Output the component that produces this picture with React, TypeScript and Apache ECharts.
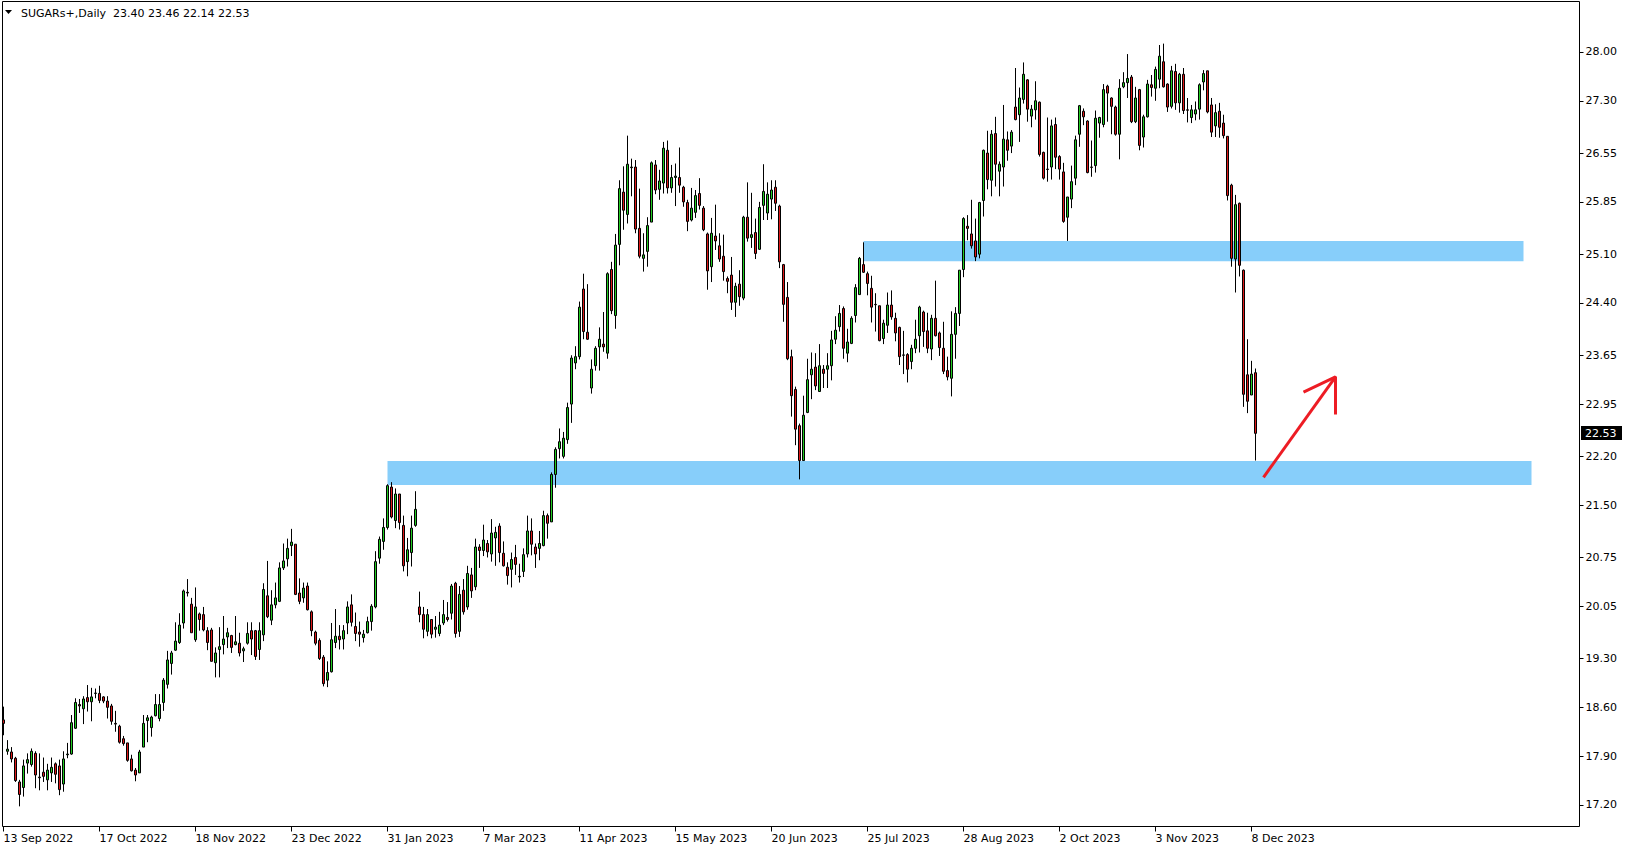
import React, { useEffect, useRef } from "react";
import * as echarts from "echarts";

const symbolName = "SUGARs+,Daily";
const dateLabels = [
  "13 Sep 2022", "17 Oct 2022", "18 Nov 2022", "23 Dec 2022", "31 Jan 2023", "7 Mar 2023", "11 Apr 2023",
  "15 May 2023", "20 Jun 2023", "25 Jul 2023", "28 Aug 2023", "2 Oct 2023", "3 Nov 2023", "8 Dec 2023",
];
const labelStep = 24;
const totalSlots = 394;

const opens = [
  18.42, 17.97, 17.96, 17.87, 17.53, 17.45, 17.80, 17.78, 17.94, 17.60, 17.67, 17.56, 17.66, 17.79, 17.76, 17.50, 17.92, 17.93, 18.30, 18.64,
  18.58, 18.74, 18.68, 18.80, 18.80, 18.75, 18.69, 18.62, 18.37, 18.33, 18.15, 18.09, 17.86, 17.70, 17.66, 18.03, 18.41, 18.31, 18.48, 18.44,
  18.67, 18.93, 19.23, 19.42, 19.53, 19.81, 20.25, 20.08, 19.57, 19.94, 19.93, 19.70, 19.71, 19.24, 19.43, 19.50, 19.61, 19.63, 19.50, 19.52,
  19.41, 19.52, 19.70, 19.70, 19.43, 19.64, 20.20, 19.85, 20.07, 20.12, 20.60, 20.73, 20.92, 20.94, 20.24, 20.17, 20.34, 19.97, 19.68, 19.56,
  19.32, 18.99, 19.11, 19.53, 19.62, 19.58, 19.81, 20.07, 19.76, 19.68, 19.60, 19.67, 19.83, 20.04, 20.74, 20.98, 21.18, 21.76, 21.28, 21.66,
  21.21, 20.69, 20.82, 21.21, 20.04, 19.93, 19.69, 19.86, 19.72, 19.66, 19.81, 19.89, 19.95, 20.38, 19.69, 20.28, 20.04, 20.50, 20.33, 20.90,
  20.85, 20.95, 20.80, 21.03, 21.20, 20.81, 20.61, 20.58, 20.75, 20.47, 20.55, 20.80, 21.13, 20.90, 20.88, 20.92, 21.35, 21.26, 21.94, 22.31,
  22.20, 22.44, 22.95, 23.54, 23.63, 24.60, 23.98, 23.18, 23.50, 23.77, 23.81, 23.68, 24.88, 24.22, 25.24, 25.99, 25.67, 26.34, 26.35, 25.47,
  25.04, 25.14, 25.56, 26.38, 26.03, 26.12, 26.59, 26.05, 26.20, 26.20, 26.06, 25.84, 25.59, 25.70, 25.97, 25.76, 25.39, 24.92, 25.36, 25.22,
  25.07, 24.75, 24.80, 24.41, 24.67, 24.47, 25.63, 25.34, 25.41, 25.17, 25.80, 25.69, 25.89, 26.06, 25.79, 24.95, 24.48, 23.63, 23.16, 22.64,
  22.14, 22.83, 23.37, 23.48, 23.13, 23.45, 23.45, 23.50, 23.88, 24.06, 24.32, 23.68, 23.82, 24.22, 24.52, 24.95, 24.82, 24.61, 24.38, 24.36,
  23.89, 24.08, 24.37, 24.18, 24.05, 23.65, 23.66, 23.56, 23.75, 23.93, 24.27, 24.00, 23.74, 24.18, 23.97, 23.75, 23.43, 23.32, 23.95, 24.25,
  24.88, 25.50, 25.39, 25.29, 25.10, 25.87, 26.55, 26.16, 26.83, 26.29, 26.35, 26.74, 26.65, 27.21, 27.10, 27.32, 27.60, 27.08, 27.17, 27.28,
  26.56, 26.32, 26.35, 26.96, 26.50, 26.28, 25.63, 25.89, 26.19, 26.82, 27.15, 27.01, 26.35, 26.37, 26.98, 26.96, 27.51, 27.34, 27.21, 26.82,
  27.50, 27.56, 27.64, 27.00, 27.46, 26.78, 27.07, 27.53, 27.48, 27.61, 27.86, 27.54, 27.22, 27.72, 27.27, 27.68, 27.17, 27.06, 27.11, 27.18,
  27.57, 27.73, 27.24, 26.94, 27.15, 26.98, 26.79, 26.09, 25.03, 25.83, 24.87, 23.37, 23.08, 23.40,
];
const highs = [
  18.61, 18.13, 18.03, 17.89, 17.56, 17.85, 17.94, 18.01, 17.97, 17.94, 17.88, 17.79, 17.88, 17.81, 17.85, 17.97, 18.09, 18.49, 18.73, 18.72,
  18.76, 18.92, 18.88, 18.87, 18.91, 18.76, 18.76, 18.65, 18.55, 18.35, 18.19, 18.09, 17.92, 17.73, 17.99, 18.49, 18.49, 18.48, 18.79, 18.79,
  19.02, 19.41, 19.41, 19.82, 19.95, 20.29, 20.44, 20.17, 20.32, 19.96, 20.04, 19.75, 19.74, 19.46, 19.75, 19.91, 19.74, 19.64, 19.91, 19.67,
  19.47, 19.82, 19.82, 19.71, 19.82, 20.38, 20.70, 20.28, 20.39, 20.68, 20.95, 21.02, 21.16, 20.94, 20.45, 20.39, 20.39, 19.99, 19.70, 19.59,
  19.35, 19.26, 19.81, 20.01, 19.78, 19.78, 20.12, 20.22, 19.96, 19.83, 19.71, 19.90, 20.08, 20.84, 21.05, 21.31, 21.80, 21.83, 21.74, 21.66,
  21.35, 21.03, 21.35, 21.70, 20.26, 20.04, 20.01, 19.86, 19.91, 19.97, 20.14, 20.11, 20.37, 20.40, 20.34, 20.44, 20.63, 20.60, 21.02, 20.94,
  21.22, 21.00, 21.30, 21.19, 21.24, 20.98, 20.68, 20.82, 20.93, 20.66, 20.88, 21.35, 21.31, 20.95, 21.13, 21.42, 21.38, 21.97, 22.33, 22.60,
  22.55, 22.97, 23.65, 23.78, 24.42, 24.82, 24.67, 23.59, 23.78, 24.05, 24.27, 24.84, 24.99, 25.39, 26.16, 26.36, 26.80, 26.47, 26.45, 26.04,
  25.40, 25.63, 26.43, 26.45, 26.31, 26.71, 26.73, 26.38, 26.40, 26.63, 26.08, 25.88, 26.05, 26.02, 26.19, 25.79, 25.41, 25.62, 25.81, 25.40,
  25.38, 24.78, 25.06, 24.69, 24.87, 25.65, 26.13, 25.98, 25.61, 25.85, 26.39, 26.13, 26.16, 26.16, 25.81, 24.96, 24.70, 23.73, 23.20, 22.67,
  23.07, 23.60, 23.69, 23.68, 23.81, 23.51, 23.68, 24.00, 24.21, 24.37, 24.35, 24.03, 24.21, 24.67, 25.06, 25.27, 24.85, 24.79, 24.54, 24.36,
  24.16, 24.55, 24.58, 24.26, 24.06, 24.00, 23.68, 23.80, 24.16, 24.36, 24.29, 24.26, 24.23, 24.72, 23.99, 24.13, 23.63, 24.28, 24.34, 24.87,
  25.63, 25.66, 25.88, 25.61, 25.85, 26.60, 26.87, 26.88, 27.07, 26.43, 27.24, 26.86, 26.88, 27.77, 27.49, 27.85, 27.61, 27.24, 27.58, 27.29,
  26.57, 27.06, 27.03, 27.06, 26.52, 26.41, 25.92, 26.37, 26.80, 27.24, 27.19, 27.02, 26.73, 27.16, 27.07, 27.54, 27.53, 27.35, 27.23, 27.61,
  27.71, 27.97, 27.67, 27.50, 27.47, 27.10, 27.60, 27.67, 27.79, 28.10, 28.12, 27.55, 27.80, 27.83, 27.70, 27.77, 27.34, 27.24, 27.29, 27.55,
  27.74, 27.73, 27.34, 27.25, 27.27, 27.10, 26.79, 26.11, 25.95, 25.84, 24.88, 23.88, 23.57, 23.46,
];
const lows = [
  18.20, 17.92, 17.81, 17.53, 17.18, 17.32, 17.65, 17.75, 17.44, 17.41, 17.53, 17.41, 17.53, 17.51, 17.34, 17.39, 17.87, 17.92, 18.29, 18.52,
  18.36, 18.54, 18.40, 18.73, 18.66, 18.66, 18.44, 18.35, 18.25, 18.08, 18.05, 17.82, 17.68, 17.54, 17.66, 18.03, 18.10, 18.18, 18.47, 18.40,
  18.55, 18.87, 19.07, 19.41, 19.51, 19.73, 20.19, 19.67, 19.54, 19.70, 19.69, 19.42, 19.26, 19.03, 19.03, 19.36, 19.45, 19.38, 19.49, 19.33,
  19.25, 19.50, 19.35, 19.28, 19.28, 19.55, 19.88, 19.78, 20.02, 20.11, 20.57, 20.62, 20.77, 20.21, 20.08, 20.10, 19.99, 19.62, 19.49, 19.28,
  18.90, 18.89, 19.10, 19.45, 19.43, 19.43, 19.65, 19.76, 19.55, 19.47, 19.53, 19.66, 19.70, 20.02, 20.66, 20.86, 21.15, 21.31, 21.17, 21.15,
  20.55, 20.48, 20.62, 21.19, 19.82, 19.59, 19.62, 19.59, 19.60, 19.62, 19.78, 19.83, 19.86, 19.60, 19.61, 19.93, 20.00, 20.17, 20.28, 20.60,
  20.77, 20.75, 20.69, 20.63, 20.68, 20.62, 20.36, 20.32, 20.50, 20.39, 20.47, 20.75, 20.78, 20.60, 20.71, 20.91, 21.02, 21.26, 21.75, 22.17,
  22.17, 22.38, 22.68, 23.45, 23.59, 23.88, 23.87, 23.10, 23.43, 23.43, 23.70, 23.60, 24.24, 24.03, 24.94, 25.45, 25.54, 25.93, 25.40, 25.04,
  24.85, 24.92, 25.56, 25.96, 25.88, 25.97, 25.97, 25.98, 25.79, 25.98, 25.78, 25.43, 25.57, 25.62, 25.74, 25.43, 24.59, 24.70, 25.16, 24.99,
  24.72, 24.54, 24.30, 24.20, 24.36, 24.44, 25.28, 25.19, 25.03, 25.16, 25.59, 25.59, 25.60, 25.72, 24.90, 24.13, 23.58, 22.77, 22.36, 21.87,
  22.14, 22.82, 23.02, 23.15, 23.13, 23.18, 23.18, 23.29, 23.81, 23.99, 23.60, 23.55, 23.81, 24.12, 24.52, 24.83, 24.51, 24.12, 23.99, 23.85,
  23.81, 23.97, 24.16, 23.85, 23.51, 23.38, 23.26, 23.45, 23.68, 23.69, 23.77, 23.68, 23.58, 23.92, 23.64, 23.38, 23.29, 23.06, 23.60, 24.07,
  24.77, 25.30, 25.18, 25.00, 25.04, 25.64, 26.03, 25.93, 26.07, 25.93, 26.07, 26.44, 26.55, 27.02, 26.71, 27.26, 27.00, 26.92, 27.03, 26.50,
  26.17, 26.14, 26.17, 26.32, 26.17, 25.55, 25.29, 25.76, 26.09, 26.64, 26.95, 26.26, 26.21, 26.27, 26.77, 26.92, 27.00, 26.82, 26.80, 26.46,
  27.48, 27.34, 26.98, 26.98, 26.59, 26.63, 27.06, 27.36, 27.30, 27.48, 27.49, 27.14, 27.19, 27.17, 27.13, 27.11, 26.99, 26.98, 27.02, 27.03,
  27.45, 27.12, 26.78, 26.78, 26.77, 26.76, 25.87, 24.92, 24.55, 24.78, 22.91, 22.82, 23.08, 22.14,
];
const closes = [
  18.37, 18.00, 17.86, 17.55, 17.35, 17.76, 17.85, 17.97, 17.63, 17.59, 17.61, 17.70, 17.74, 17.64, 17.42, 17.86, 17.93, 18.38, 18.67, 18.62,
  18.72, 18.68, 18.75, 18.805, 18.70, 18.69, 18.60, 18.40, 18.36, 18.10, 18.08, 17.84, 17.69, 17.63, 17.96, 18.37, 18.45, 18.46, 18.64, 18.64,
  18.99, 19.28, 19.38, 19.55, 19.78, 20.27, 20.24, 19.67, 20.04, 19.86, 19.71, 19.53, 19.26, 19.38, 19.47, 19.58, 19.67, 19.46, 19.54, 19.38,
  19.44, 19.66, 19.58, 19.33, 19.70, 20.29, 19.90, 20.07, 20.17, 20.60, 20.70, 20.88, 20.97, 20.22, 20.12, 20.31, 20.00, 19.70, 19.52, 19.30,
  18.94, 19.10, 19.57, 19.62, 19.57, 19.70, 20.04, 19.82, 19.66, 19.65, 19.65, 19.83, 20.05, 20.69, 21.01, 21.18, 21.78, 21.33, 21.66, 21.25,
  20.63, 20.86, 21.17, 21.44, 19.93, 19.72, 19.93, 19.65, 19.75, 19.78, 19.93, 19.86, 20.34, 19.66, 20.22, 19.97, 20.52, 20.27, 20.90, 20.85,
  21.00, 20.83, 21.10, 21.11, 20.82, 20.63, 20.49, 20.72, 20.65, 20.48, 20.79, 21.13, 20.94, 20.80, 20.95, 21.35, 21.24, 21.94, 22.30, 22.41,
  22.46, 22.90, 23.61, 23.63, 24.34, 23.99, 23.88, 23.45, 23.75, 23.88, 23.77, 24.82, 24.29, 25.23, 26.04, 25.73, 26.39, 26.35, 25.46, 25.07,
  25.09, 25.51, 26.41, 26.02, 26.15, 26.62, 26.05, 26.20, 26.22, 26.09, 25.85, 25.57, 25.76, 25.94, 25.80, 25.45, 24.86, 25.40, 25.29, 25.03,
  24.85, 24.71, 24.41, 24.64, 24.49, 25.63, 25.33, 25.38, 25.11, 25.77, 26.00, 25.96, 26.02, 25.83, 24.99, 24.38, 23.60, 23.07, 22.59, 22.14,
  22.79, 23.30, 23.45, 23.21, 23.50, 23.39, 23.50, 23.87, 24.01, 24.25, 23.75, 23.84, 24.18, 24.62, 25.04, 24.84, 24.68, 24.34, 24.375, 23.86,
  24.11, 24.37, 24.20, 23.97, 23.63, 23.655, 23.45, 23.75, 23.88, 24.34, 23.99, 23.75, 24.18, 23.93, 23.76, 23.42, 23.34, 23.95, 24.25, 24.87,
  25.61, 25.47, 25.22, 25.06, 25.84, 26.59, 26.17, 26.82, 26.39, 26.39, 26.75, 26.59, 26.85, 27.03, 27.34, 27.68, 27.18, 27.18, 27.30, 26.53,
  26.19, 26.315, 26.94, 26.49, 26.32, 25.57, 25.92, 26.14, 26.74, 27.23, 27.07, 26.27, 26.345, 27.05, 27.06, 27.46, 27.41, 27.22, 26.82, 27.48,
  27.56, 27.62, 27.00, 27.34, 26.66, 27.07, 27.54, 27.49, 27.75, 27.94, 27.50, 27.21, 27.73, 27.27, 27.68, 27.16, 27.165, 27.17, 27.17, 27.53,
  27.69, 27.14, 26.85, 27.13, 26.92, 26.80, 25.94, 25.04, 25.81, 24.94, 23.09, 22.99, 23.38, 22.53,
];

const priceTicks = [17.2, 17.9, 18.6, 19.3, 20.05, 20.75, 21.5, 22.2, 22.95, 23.65, 24.4, 25.1, 25.85, 26.55, 27.3, 28.0];
const yMin = 16.891;
const yMax = 28.724;

// zones: [fromIndex, toIndex, lowPrice, highPrice]
const supportZone = [96, 382, 21.79, 22.135];
const resistanceZone = [215, 380, 25.0, 25.29];
const arrowShaft = [[315, 21.9], [333, 23.34]];
const arrowHead = [[325, 23.12], [333, 23.34], [333, 22.8]];

const FONT = "DejaVu Sans";
const GREEN = "#22cc22";
const RED = "#dd1818";
const ZONE = "#87cefa";
const ARROW = "#ed1c24";

export default function App() {
  const ref = useRef<HTMLDivElement>(null);

  useEffect(() => {
    if (!ref.current) return;
    const chart = echarts.init(ref.current, undefined, { renderer: "svg" });
    const categories = Array.from({ length: totalSlots }, (_, i) => String(i));
    const candles = opens.map((o, i) => [o, closes[i], lows[i], highs[i]]);
    const isLabel = (idx: number) => idx % labelStep === 0 && idx / labelStep < dateLabels.length;

    chart.setOption({
      animation: false,
      backgroundColor: "#ffffff",
      grid: { left: 1.5, right: 51.5, top: 1.5, bottom: 23.5, show: false },
      xAxis: {
        type: "category",
        data: categories,
        boundaryGap: true,
        axisLine: { show: false },
        axisTick: {
          show: true,
          alignWithLabel: true,
          interval: (idx: number) => isLabel(idx),
          length: 5,
          lineStyle: { color: "#000", width: 1 },
        },
        axisLabel: {
          show: true,
          interval: (idx: number) => isLabel(idx),
          formatter: (_v: string, idx: number) => dateLabels[idx / labelStep] ?? "",
          align: "left",
          margin: 6,
          color: "#000",
          fontFamily: FONT,
          fontSize: 11,
        },
        splitLine: { show: false },
      },
      yAxis: {
        type: "value",
        position: "right",
        offset: 2,
        min: yMin,
        max: yMax,
        scale: true,
        axisLine: { show: false },
        splitLine: { show: false },
        axisTick: {
          show: true,
          customValues: priceTicks,
          length: 4,
          lineStyle: { color: "#000", width: 1 },
        },
        axisLabel: {
          show: true,
          customValues: priceTicks,
          formatter: (v: number) => v.toFixed(2),
          margin: 6,
          color: "#000",
          fontFamily: FONT,
          fontSize: 11,
        },
      },
      series: [
        {
          type: "candlestick",
          data: candles,
          barWidth: 2,
          z: 2,
          silent: true,
          itemStyle: {
            color: GREEN,
            color0: RED,
            borderColor: "#000",
            borderColor0: "#000",
            borderColorDoji: "#000",
            borderWidth: 1,
          },
          markArea: {
            silent: true,
            z: 1,
            itemStyle: { color: ZONE, opacity: 1 },
            data: [
              [
                { xAxis: String(supportZone[0]), yAxis: supportZone[3] },
                { xAxis: String(supportZone[1]), yAxis: supportZone[2] },
              ],
              [
                { xAxis: String(resistanceZone[0]), yAxis: resistanceZone[3] },
                { xAxis: String(resistanceZone[1]), yAxis: resistanceZone[2] },
              ],
            ],
          },
        },
        {
          type: "line",
          data: arrowShaft,
          symbol: "none",
          silent: true,
          z: 5,
          lineStyle: { color: ARROW, width: 3 },
        },
        {
          type: "line",
          data: arrowHead,
          symbol: "none",
          silent: true,
          z: 5,
          lineStyle: { color: ARROW, width: 3 },
        },
      ],
    });

    const n = closes.length - 1;
    const lastClose = closes[n];
    const py = chart.convertToPixel({ yAxisIndex: 0 }, lastClose) as number;
    const header = `${symbolName}  ${opens[n].toFixed(2)} ${highs[n].toFixed(2)} ${lows[n].toFixed(2)} ${lastClose.toFixed(2)}`;

    chart.setOption({
      graphic: [
        {
          type: "rect",
          shape: { x: 2.5, y: 1.5, width: 1577, height: 825 },
          style: { fill: "none", stroke: "#000", lineWidth: 1 },
          silent: true,
          z: 10,
        },
        {
          type: "polygon",
          shape: { points: [[5, 10], [12, 10], [8.5, 14]] },
          style: { fill: "#000" },
          silent: true,
          z: 10,
        },
        {
          type: "text",
          x: 21,
          y: 13,
          style: {
            text: header,
            fill: "#000",
            font: `11px "${FONT}"`,
            verticalAlign: "middle",
            align: "left",
          },
          silent: true,
          z: 10,
        },
        {
          type: "rect",
          shape: { x: 1581, y: Math.round(py) - 7, width: 41, height: 14 },
          style: { fill: "#000" },
          silent: true,
          z: 10,
        },
        {
          type: "text",
          x: 1585,
          y: Math.round(py),
          style: {
            text: lastClose.toFixed(2),
            fill: "#fff",
            font: `11px "${FONT}"`,
            verticalAlign: "middle",
            align: "left",
          },
          silent: true,
          z: 11,
        },
      ],
    });

    return () => chart.dispose();
  }, []);

  return (
    <div
      ref={ref}
      style={{ position: "fixed", left: 0, top: 0, width: 1629, height: 850, background: "#fff" }}
    />
  );
}
